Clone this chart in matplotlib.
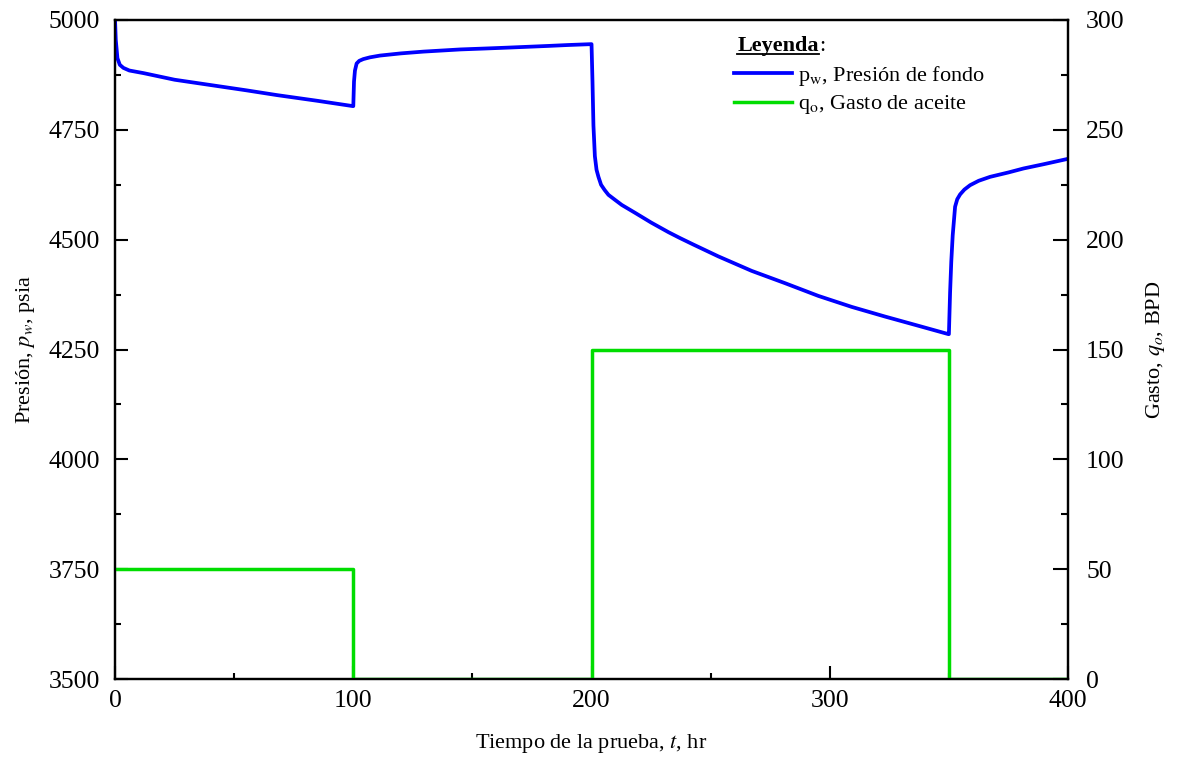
import matplotlib
matplotlib.use("Agg")
import matplotlib.pyplot as plt
from matplotlib.lines import Line2D
import numpy as np

plt.rcParams['font.family'] = ['Liberation Serif', 'DejaVu Serif']
plt.rcParams['mathtext.fontset'] = 'stix'

# Bottom-hole pressure, psia, versus test time, hr (one list per flow period)
t_flow1 = [0, 0.3, 1.0, 2.0, 3.5, 6, 12, 25, 40, 55, 68, 85, 99.8]
p_flow1 = [5000, 4955, 4913, 4898, 4891, 4885, 4879, 4864, 4852, 4840, 4829, 4816, 4804]

t_shut1 = [100, 100.3, 100.7, 101.4, 102.5, 104.2, 107, 111.2, 120, 129.4, 145, 155,
           164.4, 182, 190, 199.8]
p_shut1 = [4804, 4860, 4885, 4901, 4907, 4911, 4915, 4919, 4924, 4928, 4933, 4935,
           4937, 4941, 4943, 4945]

t_flow2 = [200, 200.4, 200.8, 201.4, 202.1, 202.9, 204, 205.5, 207.1, 210, 212.7, 218.3,
           225, 232.3, 237, 242.7, 253.2, 267.2, 281.2, 295.2, 309.2, 323.2, 337.2, 349.8]
p_flow2 = [4945, 4860, 4760, 4690, 4659, 4643, 4625, 4613, 4602, 4590, 4579, 4561,
           4539, 4517, 4504, 4489, 4462, 4429, 4401, 4372, 4347, 4325, 4304, 4285]

t_shut2 = [350, 350.5, 351, 351.6, 352.6, 353.5, 354.7, 356.5, 358.9, 362.5, 367.3, 375,
           381.3, 390, 400]
p_shut2 = [4285, 4380, 4450, 4510, 4575, 4592, 4603, 4614, 4624, 4634, 4643, 4653,
           4662, 4672, 4684]

# Oil rate schedule, BPD (rate holds from each time until the next)
rate_times = [0, 100, 200, 350, 400]
rate_values = [50, 0, 150, 0, 0]

t_p = t_flow1 + t_shut1 + t_flow2 + t_shut2
p_w = p_flow1 + p_shut1 + p_flow2 + p_shut2

fig = plt.figure(figsize=(11.8, 7.57), dpi=100)
ax = fig.add_axes([0.0975, 0.1030, 0.8076, 0.8706])
ax2 = ax.twinx()

blue = '#0000ff'
green = '#00dd00'

l1, = ax.plot(t_p, p_w, color=blue, lw=2.7, solid_joinstyle='round')
l2, = ax2.plot(rate_times, rate_values, color=green, lw=2.5, drawstyle='steps-post')

ax.set_xlim(0, 400)
ax.set_ylim(3500, 5000)
ax2.set_ylim(0, 300)

ax.set_xticks([0, 100, 200, 300, 400])
ax.set_xticks([50, 150, 250, 350], minor=True)
ax.set_yticks(np.arange(3500, 5001, 250))
ax.set_yticks(np.arange(3625, 5000, 250), minor=True)
ax2.set_yticks(np.arange(0, 301, 50))
ax2.set_yticks(np.arange(25, 300, 50), minor=True)

tick_fs = 18.5
ax.tick_params(axis='both', which='major', direction='in', length=9.5, width=1.5,
               labelsize=tick_fs, top=False, right=False)
ax.tick_params(axis='both', which='minor', direction='in', length=4.5, width=1.5,
               top=False, right=False)
ax.tick_params(axis='y', which='major', pad=11)
ax.tick_params(axis='x', which='major', pad=8)
ax2.tick_params(axis='y', which='major', direction='in', length=11, width=1.5,
                labelsize=tick_fs, pad=13)
ax2.tick_params(axis='y', which='minor', direction='in', length=5, width=1.5)

for a in (ax, ax2):
    for s in a.spines.values():
        s.set_linewidth(1.6)

label_fs = 16
ax.set_xlabel('Tiempo de la prueba, $t$, hr', fontsize=label_fs, labelpad=14)
ax.set_ylabel('Presión, $p_w$, psia', fontsize=label_fs, labelpad=8)
ax2.set_ylabel('Gasto, $q_o$, BPD', fontsize=label_fs, labelpad=14)

leg_fs = 16
leg = ax2.legend([l1, l2],
                 [r'p$_\mathrm{w}$, Presión de fondo', r'q$_\mathrm{o}$, Gasto de aceite'],
                 loc='upper left', bbox_to_anchor=(0.64, 0.947), frameon=False,
                 fontsize=leg_fs, handlelength=2.6, handletextpad=0.3,
                 labelspacing=0.25, borderaxespad=0)

title = ax2.text(0.653, 0.960, 'Leyenda', transform=ax2.transAxes, fontsize=leg_fs,
                 fontweight='bold', va='center', ha='left')
fig.canvas.draw()
bb = title.get_window_extent().transformed(ax2.transAxes.inverted())
ax2.add_line(Line2D([bb.x0, bb.x1], [bb.y0 + 0.004, bb.y0 + 0.004], transform=ax2.transAxes,
                    color='black', lw=1.3))
ax2.text(bb.x1, 0.960, ':', transform=ax2.transAxes, fontsize=leg_fs, va='center', ha='left')

fig.savefig('out.png', dpi=100)
